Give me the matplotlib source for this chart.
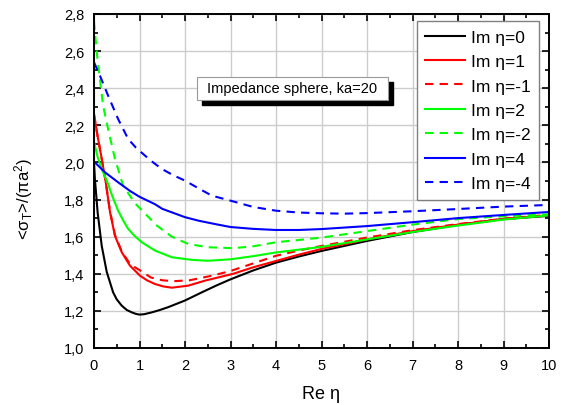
import matplotlib
matplotlib.use("Agg")
import matplotlib.pyplot as plt
from matplotlib.ticker import MultipleLocator, FuncFormatter
from matplotlib.patches import Rectangle

plt.rcParams['font.family'] = ['Liberation Sans', 'DejaVu Sans']
plt.rcParams['mathtext.fontset'] = 'custom'
plt.rcParams['mathtext.rm'] = 'Liberation Sans'
plt.rcParams['mathtext.it'] = 'Liberation Sans:italic'

# ---- data ----
x_im0 = [0, 0.02, 0.08, 0.17, 0.28, 0.42, 0.5, 0.61, 0.72, 0.83, 0.92, 1.0, 1.1, 1.27, 1.45, 1.63, 2.0, 2.37, 2.7, 3.0, 3.5, 4.0, 4.5, 5.0, 6.0, 7.0, 8.0, 9.0, 10.0]
y_im0 = [2.0, 1.91, 1.73, 1.55, 1.41, 1.30, 1.262, 1.228, 1.205, 1.192, 1.184, 1.18, 1.182, 1.192, 1.205, 1.22, 1.256, 1.30, 1.338, 1.37, 1.418, 1.46, 1.493, 1.523, 1.577, 1.625, 1.663, 1.695, 1.712]

x_im1 = [0, 0.08, 0.17, 0.26, 0.35, 0.46, 0.61, 0.79, 1.01, 1.17, 1.34, 1.52, 1.71, 2.07, 2.44, 3.06, 3.5, 4.0, 4.5, 5.0, 6.0, 7.0, 8.0, 9.0, 10.0]
y_im1 = [2.26, 2.14, 2.02, 1.89, 1.735, 1.605, 1.516, 1.444, 1.39, 1.364, 1.345, 1.332, 1.325, 1.336, 1.363, 1.40, 1.435, 1.469, 1.503, 1.534, 1.585, 1.63, 1.665, 1.695, 1.715]

x_imm1 = [0, 0.08, 0.17, 0.26, 0.35, 0.46, 0.61, 0.8, 1.0, 1.25, 1.5, 1.75, 2.1, 2.6, 3.0, 3.5, 4.0, 4.5, 5.0, 6.0, 7.0, 8.0, 9.0, 10.0]
y_imm1 = [2.26, 2.14, 2.02, 1.89, 1.74, 1.61, 1.52, 1.45, 1.42, 1.38, 1.365, 1.36, 1.365, 1.39, 1.415, 1.456, 1.497, 1.525, 1.55, 1.595, 1.635, 1.668, 1.697, 1.718]

x_im2 = [0, 0.08, 0.17, 0.3, 0.4, 0.53, 0.64, 0.75, 0.9, 1.05, 1.34, 1.71, 2.15, 2.5, 3.0, 3.5, 4.0, 4.5, 5.0, 6.0, 7.0, 8.0, 9.0, 10.0]
y_im2 = [2.11, 2.03, 1.965, 1.89, 1.82, 1.74, 1.688, 1.642, 1.602, 1.57, 1.525, 1.489, 1.475, 1.47, 1.478, 1.495, 1.515, 1.53, 1.545, 1.585, 1.625, 1.66, 1.692, 1.715]

x_imm2 = [0, 0.06, 0.13, 0.2, 0.31, 0.46, 0.64, 0.9, 1.12, 1.38, 1.71, 2.07, 2.5, 3.06, 3.5, 4.0, 4.5, 5.0, 6.0, 7.0, 8.0, 9.0, 10.0]
y_imm2 = [2.76, 2.594, 2.45, 2.306, 2.18, 2.02, 1.875, 1.78, 1.725, 1.66, 1.6, 1.561, 1.543, 1.538, 1.548, 1.57, 1.582, 1.595, 1.63, 1.665, 1.695, 1.71, 1.72]

x_im4 = [0, 0.24, 0.53, 0.8, 1.0, 1.34, 1.5, 2.0, 2.3, 2.66, 3.0, 3.5, 4.0, 4.5, 5.0, 6.0, 7.0, 8.0, 9.0, 10.0]
y_im4 = [2.005, 1.947, 1.893, 1.845, 1.815, 1.775, 1.75, 1.705, 1.686, 1.668, 1.652, 1.642, 1.636, 1.636, 1.641, 1.657, 1.678, 1.70, 1.717, 1.733]

x_imm4 = [0, 0.13, 0.31, 0.53, 0.75, 0.92, 1.12, 1.3, 1.49, 1.75, 2.0, 2.3, 2.59, 3.0, 3.5, 4.0, 4.5, 5.0, 5.5, 6.0, 7.0, 8.0, 9.0, 10.0]
y_imm4 = [2.54, 2.468, 2.36, 2.234, 2.127, 2.08, 2.037, 2.0, 1.965, 1.93, 1.902, 1.86, 1.821, 1.794, 1.76, 1.74, 1.73, 1.726, 1.724, 1.727, 1.737, 1.749, 1.762, 1.771]

labels = ["Im \u03b7=0", "Im \u03b7=1", "Im \u03b7=-1", "Im \u03b7=2", "Im \u03b7=-2", "Im \u03b7=4", "Im \u03b7=-4"]
annotation = "Impedance sphere, ka=20"

# ---- figure ----
fig = plt.figure(figsize=(5.63, 4.06), dpi=100)
ax = fig.add_axes([94/563, 57/406, 455/563, 334/406])

series = [
    (x_im0, y_im0, 'black', '-'),
    (x_im1, y_im1, '#ff0000', '-'),
    (x_imm1, y_imm1, '#ff0000', '--'),
    (x_im2, y_im2, '#00ff00', '-'),
    (x_imm2, y_imm2, '#00ff00', '--'),
    (x_im4, y_im4, '#0000ff', '-'),
    (x_imm4, y_imm4, '#0000ff', '--'),
]
for (xs, ys, c, ls), lab in zip(series, labels):
    kw = dict(color=c, lw=1.5, label=lab, solid_joinstyle='round')
    if ls == '--':
        kw['dashes'] = (4, 3)
    ax.plot(xs, ys, **kw)

ax.set_xlim(0, 10)
ax.set_ylim(1.0, 2.8)
ax.xaxis.set_major_locator(MultipleLocator(1))
ax.xaxis.set_minor_locator(MultipleLocator(0.5))
ax.yaxis.set_major_locator(MultipleLocator(0.2))
ax.yaxis.set_minor_locator(MultipleLocator(0.1))
ax.xaxis.set_major_formatter(FuncFormatter(lambda v, p: f"{v:.0f}"))
ax.yaxis.set_major_formatter(FuncFormatter(lambda v, p: f"{v:.1f}".replace('.', ',')))
ax.tick_params(which='both', direction='in', top=True, right=True, labelsize=10.5, width=1.2)
ax.tick_params(which='major', length=5, pad=7)
ax.tick_params(which='minor', length=3)
for s in ax.spines.values():
    s.set_linewidth(1.4)
ax.grid(True, which='major', color='#cccccc', lw=1)
ax.set_axisbelow(True)

ax.set_xlabel("Re \u03b7", fontsize=13)
ax.xaxis.set_label_coords(0.5, -0.112)
ax.set_ylabel("<\u03c3$_\\mathrm{T}$>/(\u03c0a$^\\mathrm{2}$)", fontsize=12)
ax.yaxis.set_label_coords(-0.13, 0.45)

leg = ax.legend(loc='upper right', bbox_to_anchor=(0.978, 0.979), fontsize=12.5,
                handlelength=2.3, handletextpad=0.3, borderpad=0.5,
                labelspacing=0.53, fancybox=False, framealpha=1, borderaxespad=0)
leg.get_frame().set_edgecolor('#808080')
leg.get_frame().set_linewidth(1.0)

# annotation box with shadow
bx0, bx1 = (197-94)/455, (388-94)/455
by0, by1 = (349-101)/334, (349-78)/334
ax.add_patch(Rectangle((bx0 + 0.011, by0 - 0.015), bx1 - bx0, by1 - by0,
                       transform=ax.transAxes, facecolor='black', edgecolor='black', zorder=5))
ax.add_patch(Rectangle((bx0, by0), bx1 - bx0, by1 - by0,
                       transform=ax.transAxes, facecolor='white', edgecolor='#999999', lw=0.8, zorder=6))
ax.text((bx0 + bx1) / 2, (by0 + by1) / 2, annotation, transform=ax.transAxes,
        ha='center', va='center', fontsize=10.5, zorder=7)

fig.savefig("out.png", dpi=100)
